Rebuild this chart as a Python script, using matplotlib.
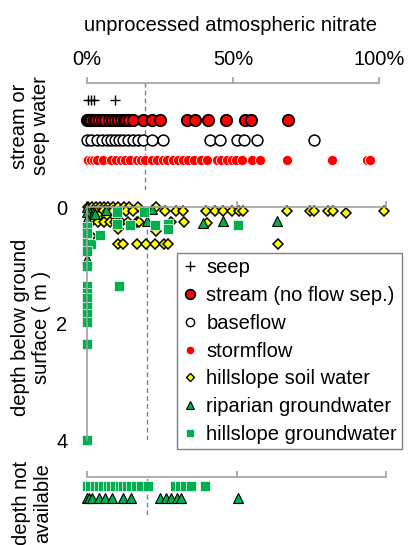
import matplotlib
matplotlib.use('Agg')
import matplotlib.pyplot as plt
from matplotlib.lines import Line2D
import numpy as np

plt.rcParams['font.family'] = ['Liberation Sans', 'DejaVu Sans']

# percent unprocessed atmospheric nitrate
seep_x = [0.3, 1.3, 2.5, 9.6]
stream_x = [0, 0.4, 0.9, 1.5, 2.3, 3.2, 4.1, 5, 6, 7.6, 8.5, 9.5, 10.5, 11.5, 12.5, 13.5,
            14.5, 15.9, 19.3, 22.2, 25, 34.1, 37, 41.5, 47.5, 54.1, 56.1, 68.9]
baseflow_x = [0, 1.2, 3.3, 5, 6.9, 8.3, 9.6, 11.1, 12.4, 14, 15.9, 17.5, 19.3, 22.2, 25.9,
              42.1, 45.5, 51.3, 53.8, 58.1, 77.7]
stormflow_x = [0, 0.5, 1.5, 2.5, 3.5, 5.5, 8.1, 10, 11.5, 13, 14.7, 17, 18.5, 20, 22.2, 24,
               26, 27.5, 29.5, 31.3, 33, 34.7, 36.5, 39, 41, 44.4, 46, 47.8, 49.5, 51, 53,
               56.4, 59.2, 68.6, 83.8, 95.8, 97]

# hillslope soil water (x, depth m)
soil_x = [0.3, 1.7, 3, 4.3, 5.7, 7, 8.7, 10.4, 12.4, 14, 17, 23,
          2.6, 5.4, 7, 8.7, 13.1, 15.4, 26.2, 29.9, 32.2, 39.8, 42.8, 45.6, 48.4, 50.9, 52.1,
          66.8, 74.6, 76, 80.5, 82.4, 86.5, 99.3,
          1, 4, 6.5,
          1.4, 3.7, 5.7, 7.6, 9.3, 11.5, 13.7, 16.8, 17.4, 28, 32.4, 40,
          10.5, 23, 1.4,
          10.4, 12, 16.8, 19.8, 22.8, 25.8, 27.1, 64]
soil_d = [0, 0, 0, 0, 0, 0, 0, 0, 0, 0, 0, 0,
          0.07, 0.07, 0.07, 0.07, 0.07, 0.07, 0.07, 0.07, 0.07, 0.07, 0.07, 0.07, 0.07, 0.07, 0.07,
          0.07, 0.07, 0.07, 0.07, 0.07, 0.11, 0.07,
          0.15, 0.15, 0.15,
          0.25, 0.25, 0.25, 0.25, 0.25, 0.25, 0.25, 0.25, 0.25, 0.25, 0.25, 0.27,
          0.38, 0.41, 0.5,
          0.64, 0.64, 0.64, 0.64, 0.64, 0.64, 0.64, 0.64]

# riparian groundwater
rip_x = [0, 0, 0, 2.3, 2.7, 6.5, 0, 21.7, 20.2, 38.8, 45.6, 63.6]
rip_d = [0, 0.08, 0.2, 0.09, 0.12, 0.05, 0.9, 0.03, 0.24, 0.27, 0.24, 0.24]

# hillslope groundwater
hgw_x = [0, 0, 0, 1.4, 0, 0, 0, 0, 0, 0, 0, 0, 0, 0, 4.4, 9.9, 9.9, 14.5, 19, 22.8, 27, 27,
         50.6, 10.7]
hgw_d = [0.35, 0.45, 0.61, 0.63, 0.75, 1.02, 1.36, 1.48, 1.57, 1.72, 1.83, 1.98, 2.36, 4.0,
         0.48, 0.09, 0.3, 0.31, 0.09, 0.31, 0.29, 0.37, 0.31, 1.36]

# depth not available
na_hgw_x = [0, 0.9, 2.6, 3.9, 5.4, 7, 8.1, 9.5, 10.9, 12, 13.5, 14.8, 16.5, 18.1, 20.4,
            29.3, 31, 32.7, 34.9, 39.6]
na_rip_x = [0, 0.7, 1.7, 3.9, 6.1, 8.2, 12.1, 14.7, 24.3, 26.3, 28.2, 30, 31.5, 50.5]

W, H = 408, 545
grey = '#A0A0A0'
red = '#FF0000'
green = '#00B050'
yellow = '#FFFF00'
fs = 14.5

fig = plt.figure(figsize=(W / 100, H / 100), dpi=100)


def axbox(left, right, top, bottom):
    return [left / W, 1 - bottom / H, (right - left) / W, (bottom - top) / H]


def style(ax, labels=False):
    for s in ['left', 'right', 'bottom']:
        ax.spines[s].set_visible(False)
    ax.spines['top'].set_color(grey)
    ax.spines['top'].set_linewidth(1.2)
    ax.xaxis.set_ticks_position('top')
    ax.set_xlim(0, 100)
    ax.set_xticks([0, 50, 100])
    ax.tick_params(axis='x', direction='out', length=4, width=1.2, color=grey,
                   labeltop=labels, labelbottom=False, labelsize=fs, pad=6)
    if labels:
        ax.set_xticklabels(['0%', '50%', '100%'])
    ax.patch.set_visible(False)


# top panel: stream or seep water
ax1 = fig.add_axes(axbox(87, 379, 83, 190))
style(ax1, labels=True)
ax1.set_yticks([])
ax1.set_ylim(4.52, -0.88)
ax1.axvline(20, color='#808080', lw=1, ls=(0, (3.5, 2.2)), zorder=0)
ax1.plot(seep_x, np.zeros(len(seep_x)), '+', color='black', ms=7.5, mew=1, clip_on=False)
ax1.plot(stream_x, np.full(len(stream_x), 1), 'o', mfc=red, mec='black', ms=8.2, mew=1.3,
         clip_on=False)
ax1.plot(baseflow_x, np.full(len(baseflow_x), 2), 'o', mfc='white', mec='black', ms=7.8,
         mew=1.1, clip_on=False)
ax1.plot(stormflow_x, np.full(len(stormflow_x), 3), 'o', mfc=red, mec='white', ms=7.3,
         mew=0.6, clip_on=False)

# middle panel: depth below ground surface
ax2 = fig.add_axes(axbox(87, 386, 207, 440))
style(ax2)
ax2.spines['left'].set_visible(True)
ax2.spines['left'].set_color(grey)
ax2.spines['left'].set_linewidth(1.2)
ax2.set_ylim(4, 0)
ax2.set_yticks([0, 2, 4])
ax2.tick_params(axis='y', direction='out', length=2, width=1, color=grey, labelsize=fs, pad=12)
ax2.axvline(20, color='#808080', lw=1, ls=(0, (3.5, 2.2)), zorder=0)
ax2.plot(soil_x, soil_d, 'D', mfc=yellow, mec='black', ms=5.5, mew=1.1, clip_on=False)
ax2.plot(rip_x, rip_d, '^', mfc=green, mec='black', ms=7.2, mew=0.8, clip_on=False)
ax2.plot(hgw_x, hgw_d, 's', mfc=green, mec='white', ms=7, mew=0.5, clip_on=False)

# bottom panel: depth not available
ax3 = fig.add_axes(axbox(87, 386, 477, 515))
style(ax3)
ax3.set_yticks([])
ax3.set_ylim(2.42, -0.75)
ax3.axvline(20, color='#808080', lw=1, ls=(0, (3.5, 2.2)), zorder=0)
ax3.plot(na_hgw_x, np.zeros(len(na_hgw_x)), 's', mfc=green, mec='white', ms=7, mew=0.5,
         clip_on=False)
ax3.plot(na_rip_x, np.ones(len(na_rip_x)), '^', mfc=green, mec='black', ms=7.2, mew=0.8,
         clip_on=False)

fig.text(231 / W, 1 - 31 / H, 'unprocessed atmospheric nitrate', fontsize=fs,
         ha='center', va='baseline')
fig.text(30 / W, 1 - 126 / H, 'stream or\nseep water', fontsize=fs, rotation=90,
         ha='center', va='center', multialignment='center', linespacing=1.1)
fig.text(31 / W, 1 - 327 / H, 'depth below ground\nsurface ( m )', fontsize=fs, rotation=90,
         ha='center', va='center', multialignment='center', linespacing=1.1)
fig.text(32 / W, 1 - 503 / H, 'depth not\navailable', fontsize=fs, rotation=90,
         ha='center', va='center', multialignment='center', linespacing=1.1)

handles = [
    Line2D([], [], ls='none', marker='+', color='black', ms=6.5, mew=1),
    Line2D([], [], ls='none', marker='o', mfc=red, mec='black', ms=7, mew=1.2),
    Line2D([], [], ls='none', marker='o', mfc='white', mec='black', ms=6, mew=1),
    Line2D([], [], ls='none', marker='o', mfc=red, mec='white', ms=6, mew=0.5),
    Line2D([], [], ls='none', marker='D', mfc=yellow, mec='black', ms=4.5, mew=1),
    Line2D([], [], ls='none', marker='^', mfc=green, mec='black', ms=6, mew=0.8),
    Line2D([], [], ls='none', marker='s', mfc=green, mec='white', ms=5.5, mew=0.5),
]
labels = ['seep', 'stream (no flow sep.)', 'baseflow', 'stormflow', 'hillslope soil water',
          'riparian groundwater', 'hillslope groundwater']
leg = fig.legend(handles, labels, loc='upper left', bbox_to_anchor=(177 / W, 1 - 253 / H),
                 bbox_transform=fig.transFigure, borderaxespad=0, fancybox=False,
                 edgecolor='#808080', framealpha=1, fontsize=fs, borderpad=0.25,
                 handlelength=0.8, handletextpad=0.4, labelspacing=0.44)
leg.get_frame().set_linewidth(1)

fig.savefig('out.png', dpi=100)
